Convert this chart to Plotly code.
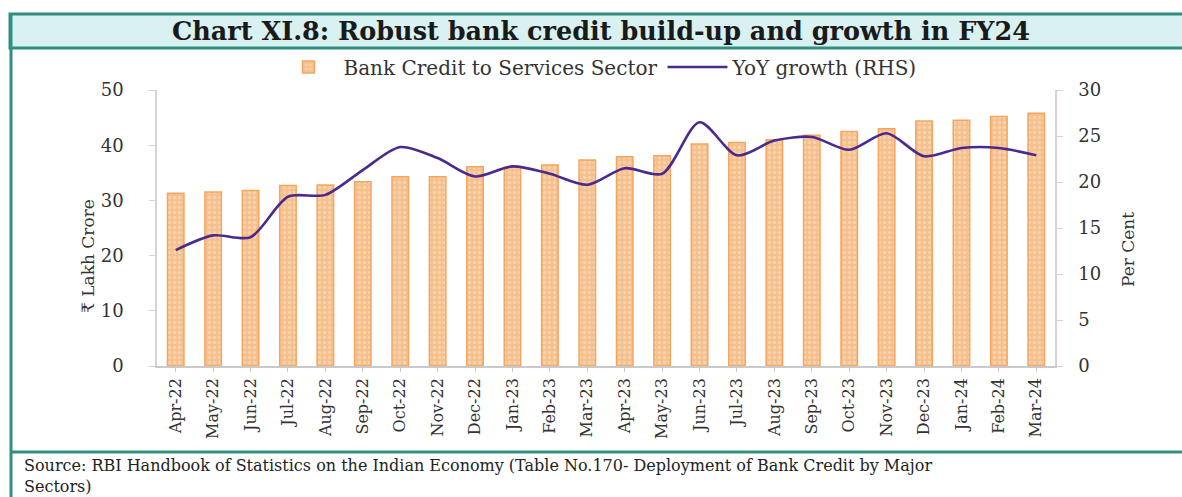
import plotly.graph_objects as go

# Monthly bank credit to the services sector and its year-on-year growth
months = ["Apr-22", "May-22", "Jun-22", "Jul-22", "Aug-22", "Sep-22", "Oct-22", "Nov-22",
          "Dec-22", "Jan-23", "Feb-23", "Mar-23", "Apr-23", "May-23", "Jun-23", "Jul-23",
          "Aug-23", "Sep-23", "Oct-23", "Nov-23", "Dec-23", "Jan-24", "Feb-24", "Mar-24"]
credit_lakh_crore = [31.3, 31.5, 31.8, 32.7, 32.8, 33.4, 34.3, 34.3, 36.1, 36.0, 36.4, 37.3,
                     37.9, 38.1, 40.2, 40.5, 41.0, 41.8, 42.5, 43.0, 44.4, 44.5, 45.2, 45.8]
yoy_growth_pct = [12.6, 14.2, 14.0, 18.4, 18.6, 21.3, 23.8, 22.6, 20.6, 21.7, 20.9, 19.7,
                  21.5, 20.9, 26.5, 22.9, 24.5, 24.9, 23.5, 25.3, 22.8, 23.7, 23.7, 22.9]

left_ticks = [0, 10, 20, 30, 40, 50]
right_ticks = [0, 5, 10, 15, 20, 25, 30]

W, H = 1182, 497
L, R, T, B = 157, 1055, 90, 366  # plot area in pixels

SERIF = "DejaVu Serif, Liberation Serif, serif"
TEAL = "#2f8f80"
TEXT = "#333333"

fig = go.Figure()
fig.add_trace(go.Bar(
    x=months, y=credit_lakh_crore, name="Bank Credit to Services Sector",
    marker=dict(color="#f7c79b",
                line=dict(color="#f4a65e", width=1.5),
                pattern=dict(shape=".", fgcolor="#fbe3c8", bgcolor="#f5c08e",
                             size=5, solidity=0.35)),
    yaxis="y",
))
fig.add_trace(go.Scatter(
    x=months, y=yoy_growth_pct, name="YoY growth (RHS)", mode="lines",
    line=dict(color="#4a2a8c", width=2.6, shape="spline", smoothing=0.8),
    yaxis="y2",
))


def px_x(px):
    return (px - L) / (R - L)


def px_y(py):
    return (B - py) / (B - T)


shapes = [
    # title band
    dict(type="rect", xref="paper", yref="paper", x0=px_x(10), x1=px_x(1190),
         y0=px_y(48), y1=px_y(14), fillcolor="#d9f1f1", line=dict(color=TEAL, width=3),
         layer="below"),
    # outer frame, left side
    dict(type="line", xref="paper", yref="paper", x0=px_x(11), x1=px_x(11),
         y0=px_y(14), y1=px_y(500), line=dict(color=TEAL, width=3)),
    # divider above the source note
    dict(type="line", xref="paper", yref="paper", x0=px_x(10), x1=px_x(1190),
         y0=px_y(452), y1=px_y(452), line=dict(color=TEAL, width=3)),
]

annotations = [
    dict(text="<b>Chart XI.8: Robust bank credit build-up and growth in FY24</b>",
         xref="paper", yref="paper", x=px_x(601), y=px_y(31), xanchor="center",
         yanchor="middle", showarrow=False,
         font=dict(family=SERIF, size=25.5, color="#1a1a1a")),
    dict(text="Source: RBI Handbook of Statistics on the Indian Economy (Table No.170- "
              "Deployment of Bank Credit by Major<br>Sectors)",
         xref="paper", yref="paper", x=px_x(22), y=px_y(454), xanchor="left",
         yanchor="top", align="left", showarrow=False,
         font=dict(family=SERIF, size=16, color="#222")),
    # axis titles
    dict(text="₹ Lakh Crore", textangle=-90,
         xref="paper", yref="paper", x=px_x(88), y=px_y(256), xanchor="center",
         yanchor="middle", showarrow=False,
         font=dict(family=SERIF, size=17, color=TEXT)),
    dict(text="Per Cent", textangle=-90,
         xref="paper", yref="paper", x=px_x(1128), y=px_y(250), xanchor="center",
         yanchor="middle", showarrow=False,
         font=dict(family=SERIF, size=17, color=TEXT)),
]

fig.update_layout(
    width=W, height=H,
    margin=dict(l=L, r=W - R, t=T, b=H - B, pad=0),
    paper_bgcolor="white", plot_bgcolor="white",
    bargap=0.56,
    font=dict(family=SERIF, size=16, color=TEXT),
    showlegend=True,
    legend=dict(orientation="h", x=px_x(598), xanchor="center", y=px_y(67),
                yanchor="middle",
                font=dict(family=SERIF, size=20, color=TEXT),
                itemwidth=60, bgcolor="rgba(0,0,0,0)", traceorder="normal"),
    xaxis=dict(tickangle=-90, tickfont=dict(family=SERIF, size=16, color=TEXT),
               showline=True, linecolor="#c9c9c9", linewidth=1.5,
               ticks="outside", ticklen=4, tickcolor="#c9c9c9",
               showgrid=False, range=[-0.5, len(months) - 0.5]),
    yaxis=dict(range=[0, 50], tickvals=left_ticks, showgrid=False, zeroline=False,
               showline=True, linecolor="#d4d4d4", linewidth=1.5,
               ticks="outside", ticklen=6, tickcolor="#d4d4d4",
               ticklabelstandoff=22,
               tickfont=dict(family=SERIF, size=18, color=TEXT)),
    yaxis2=dict(range=[0, 30], tickvals=right_ticks, overlaying="y", side="right",
                showgrid=False, zeroline=False,
                showline=True, linecolor="#ddd0d0", linewidth=1.5,
                ticks="outside", ticklen=6, tickcolor="#ddd0d0",
                ticklabelstandoff=12,
                tickfont=dict(family=SERIF, size=18, color=TEXT)),
    shapes=shapes,
    annotations=annotations,
)

fig.write_html("out.html")
